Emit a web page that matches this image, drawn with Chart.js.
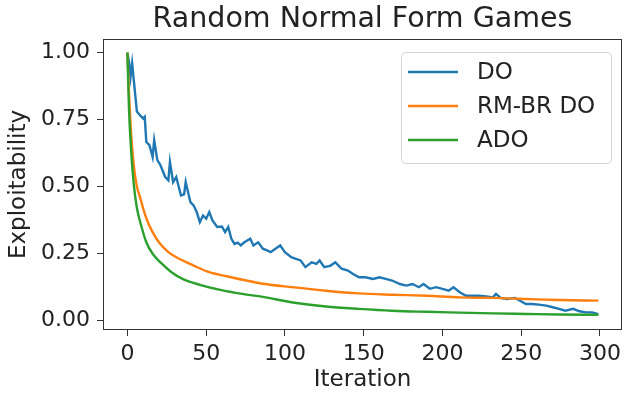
<!DOCTYPE html>
<html>
<head>
<meta charset="utf-8">
<script src="https://cdn.jsdelivr.net/npm/chart.js@4.4.0/dist/chart.umd.min.js"></script>
<style>
  html, body { margin: 0; padding: 0; background: #fff; }
</style>
</head>
<body>
<canvas id="chart" width="624" height="394"></canvas>
<script>
// values
const doIter = [0, 1, 2, 3, 4, 6, 8, 10, 11, 12, 14, 16, 17, 19, 21, 24, 26, 27, 29, 31,
  34, 36, 37, 40, 42, 44, 46, 48, 50, 52, 54, 57, 60, 62, 64, 66, 68, 70, 72, 74,
  78, 80, 83, 86, 89, 91, 94, 97, 100, 104, 107, 110, 113, 117, 120, 122, 125, 129, 132, 136,
  140, 143, 147, 151, 156, 160, 164, 168, 173, 177, 181, 185, 188, 192, 196, 200, 204, 207, 211, 215,
  219, 223, 228, 232, 234, 237, 241, 246, 249, 253, 257, 261, 266, 270, 274, 278, 283, 287, 291, 295, 299];
const doVals = [1.00, 0.965, 0.91, 0.96, 0.90, 0.78, 0.766, 0.754, 0.76, 0.666, 0.654, 0.61, 0.673, 0.598, 0.579, 0.535, 0.523, 0.591, 0.516, 0.535,
  0.466, 0.47, 0.516, 0.441, 0.429, 0.404, 0.366, 0.391, 0.379, 0.404, 0.373, 0.348, 0.35, 0.329, 0.348, 0.304, 0.285, 0.29, 0.279, 0.29,
  0.304, 0.279, 0.291, 0.267, 0.26, 0.254, 0.267, 0.279, 0.254, 0.235, 0.229, 0.223, 0.198, 0.216, 0.21, 0.223, 0.198, 0.204, 0.216, 0.192,
  0.185, 0.173, 0.16, 0.16, 0.154, 0.16, 0.154, 0.148, 0.135, 0.129, 0.135, 0.123, 0.135, 0.117, 0.123, 0.117, 0.11, 0.123, 0.104, 0.091,
  0.091, 0.091, 0.088, 0.085, 0.098, 0.083, 0.079, 0.083, 0.073, 0.06, 0.06, 0.058, 0.054, 0.048, 0.042, 0.035, 0.042, 0.033, 0.029, 0.029, 0.022];

const rmIter = [0, 1, 2, 4, 6, 8, 10, 13, 16, 20, 26, 31, 42, 52, 63, 73, 86, 105, 126, 147, 168, 190, 211, 232, 253, 274, 299];
const rmVals = [1.0, 0.85, 0.73, 0.58, 0.50, 0.46, 0.417, 0.366, 0.329, 0.291, 0.254, 0.235, 0.204, 0.179, 0.164, 0.151, 0.136, 0.123, 0.11, 0.10, 0.095, 0.091, 0.085, 0.083, 0.079, 0.075, 0.073];

const adoIter = [0, 1, 2, 4, 6, 9, 12, 16, 22, 28, 35, 46, 59, 73, 86, 105, 126, 147, 168, 190, 211, 232, 253, 274, 299];
const adoVals = [1.0, 0.79, 0.67, 0.51, 0.42, 0.348, 0.291, 0.248, 0.21, 0.179, 0.154, 0.132, 0.113, 0.098, 0.087, 0.066, 0.051, 0.042, 0.035, 0.031, 0.028, 0.025, 0.023, 0.021, 0.02];

const seriesNames = ['DO', 'RM-BR DO', 'ADO'];
const xTicks = [0, 50, 100, 150, 200, 250, 300];
const yTicks = [0, 0.25, 0.5, 0.75, 1.0];

function pts(xs, ys) {
    return xs.map((x, i) => ({ x: x, y: ys[i] }));
}

Chart.defaults.font.family = '"DejaVu Sans", sans-serif';
Chart.defaults.color = '#222';

// matplotlib style frame around the plot area
const frame = {
    id: 'frame',
    afterDatasetsDraw(chart) {
        const a = chart.chartArea;
        const ctx = chart.ctx;
        ctx.save();
        ctx.strokeStyle = '#333';
        ctx.lineWidth = 1;
        const l = Math.round(a.left) + 0.5, t = Math.round(a.top) + 0.5;
        const r = Math.round(a.right) - 0.5, b = Math.round(a.bottom) - 0.5;
        ctx.strokeRect(l, t, r - l, b - t);
        ctx.restore();
    }
};

// legend in the upper right of the plot, line samples like matplotlib
const boxLegend = {
    id: 'boxLegend',
    afterDraw(chart) {
        const a = chart.chartArea;
        const ctx = chart.ctx;
        const w = 210, h = 111;
        const x0 = a.right - 11 - w, y0 = a.top + 13;
        ctx.save();
        ctx.beginPath();
        ctx.roundRect(x0 + 0.5, y0 + 0.5, w, h, 4);
        ctx.fillStyle = 'rgba(255,255,255,0.85)';
        ctx.fill();
        ctx.strokeStyle = '#d4d4d4';
        ctx.lineWidth = 1;
        ctx.stroke();
        ctx.font = '23px "DejaVu Sans"';
        ctx.textBaseline = 'middle';
        ctx.fillStyle = '#222';
        chart.data.datasets.forEach((ds, i) => {
            const y = y0 + 20 + i * 34;
            ctx.beginPath();
            ctx.moveTo(x0 + 7, y);
            ctx.lineTo(x0 + 57, y);
            ctx.strokeStyle = ds.borderColor;
            ctx.lineWidth = 2.4;
            ctx.stroke();
            ctx.fillText(ds.label, x0 + 76, y + 1);
        });
        ctx.restore();
    }
};

const ctx = document.getElementById('chart').getContext('2d');
new Chart(ctx, {
    type: 'line',
    data: {
        datasets: [{
            label: seriesNames[0],
            data: pts(doIter, doVals),
            borderColor: '#1f77b4',
            borderWidth: 2.4,
            pointRadius: 0,
            tension: 0,
            order: 3
        }, {
            label: seriesNames[1],
            data: pts(rmIter, rmVals),
            borderColor: '#ff7f0e',
            borderWidth: 2.4,
            pointRadius: 0,
            cubicInterpolationMode: 'monotone',
            order: 2
        }, {
            label: seriesNames[2],
            data: pts(adoIter, adoVals),
            borderColor: '#2ca02c',
            borderWidth: 2.4,
            pointRadius: 0,
            cubicInterpolationMode: 'monotone',
            order: 1
        }]
    },
    options: {
        responsive: false,
        animation: false,
        layout: {
            padding: { left: 0, right: 2, top: 0, bottom: 0 }
        },
        scales: {
            x: {
                type: 'linear',
                min: -15.5,
                max: 314,
                afterBuildTicks: s => { s.ticks = xTicks.map(v => ({ value: v })); },
                afterFit: s => { s.height = 64; s.paddingLeft = 0; s.paddingRight = 0; },
                ticks: {
                    font: { size: 22 },
                    color: '#222',
                    padding: 5,
                    maxRotation: 0,
                    autoSkip: false
                },
                grid: {
                    drawOnChartArea: false,
                    drawTicks: true,
                    tickLength: 6,
                    tickColor: '#333'
                },
                border: { display: false },
                title: {
                    display: true,
                    text: 'Iteration',
                    font: { size: 23 },
                    color: '#222',
                    padding: { top: 0, bottom: 0 }
                }
            },
            y: {
                min: -0.037,
                max: 1.051,
                afterBuildTicks: s => { s.ticks = yTicks.map(v => ({ value: v })); },
                afterFit: s => { s.width = 103; s.paddingTop = 0; s.paddingBottom = 0; },
                ticks: {
                    font: { size: 22 },
                    color: '#222',
                    padding: 7,
                    callback: v => v.toFixed(2)
                },
                grid: {
                    drawOnChartArea: false,
                    drawTicks: true,
                    tickLength: 6,
                    tickColor: '#333'
                },
                border: { display: false },
                title: {
                    display: true,
                    text: 'Exploitability',
                    font: { size: 23 },
                    color: '#222',
                    padding: { top: 5, bottom: 0 }
                }
            }
        },
        plugins: {
            legend: { display: false },
            tooltip: { enabled: false },
            title: {
                display: true,
                fullSize: false,
                text: 'Random Normal Form Games',
                font: { size: 28.5, weight: 'normal' },
                color: '#222',
                padding: { top: 2, bottom: 2.8 }
            }
        }
    },
    plugins: [frame, boxLegend]
});
</script>
</body>
</html>
